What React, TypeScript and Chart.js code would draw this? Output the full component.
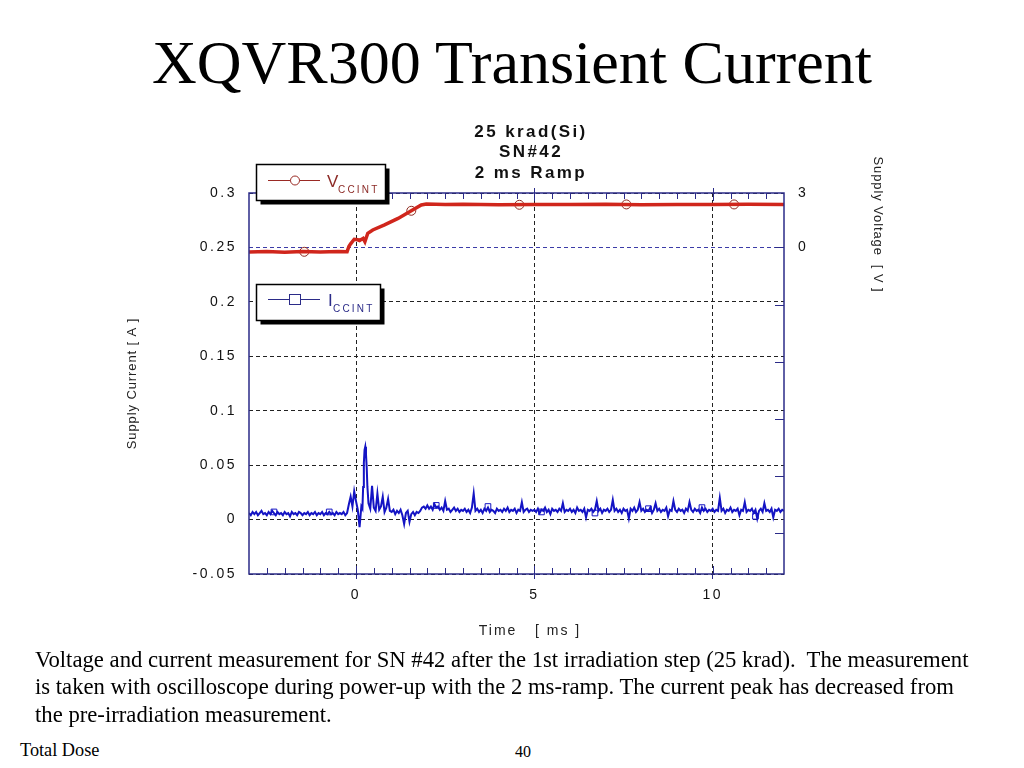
import React, { useEffect, useRef } from 'react';
import { Chart, registerables } from 'chart.js';

Chart.register(...registerables);

// axes
const xMajorTicks = [0, 5, 10];
const xMinorTicks = [-2.5, -2, -1.5, -1, -0.5, 0.5, 1, 1.5, 2, 2.5, 3, 3.5, 4, 4.5, 5.5, 6, 6.5, 7, 7.5, 8, 8.5, 9, 9.5, 10.5, 11, 11.5];
const leftTicks = [-0.05, 0, 0.05, 0.1, 0.15, 0.2, 0.25, 0.3];
const leftTickLabels = ['-0.05', '0', '0.05', '0.1', '0.15', '0.2', '0.25', '0.3'];
const rightTicks = [3, 0, -3.15, -6.3, -9.45, -12.6, -15.75];
const rightTickLabels = ['3', '0', '', '', '', '', ''];

const chartTitleLines = ['25 krad(Si)', 'SN#42', '2 ms Ramp'];

// V_CCINT [V] (right axis)
const vTimes = [-3, -2.5, -2, -1.5, -1, -0.5, -0.25, -0.2, -0.15, -0.05, 0.05, 0.1, 0.2, 0.25, 0.33, 0.47, 0.8, 1.18, 1.55, 1.83, 1.97, 2.5, 3, 4, 5, 6, 7, 8, 9, 10, 11, 12];
const vVolts = [-0.25, -0.22, -0.26, -0.23, -0.25, -0.22, -0.24, 0.05, 0.2, 0.45, 0.42, 0.38, 0.5, 0.32, 0.78, 0.96, 1.24, 1.6, 2.02, 2.34, 2.39, 2.36, 2.38, 2.35, 2.37, 2.36, 2.38, 2.35, 2.37, 2.36, 2.38, 2.36];
const vMarkerTimes = [-1.45, 1.55, 4.58, 7.58, 10.6];
const vMarkerVolts = [-0.24, 2.02, 2.35, 2.37, 2.37];

// I_CCINT [A] (left axis)
const iTimes = [
  -3, -2.95, -2.9, -2.85, -2.8, -2.75, -2.7, -2.65, -2.6, -2.55, -2.5, -2.45, -2.4, -2.35, -2.3, -2.25, -2.2, -2.15, -2.1, -2.05,
  -2, -1.95, -1.9, -1.85, -1.8, -1.75, -1.7, -1.65, -1.6, -1.55, -1.5, -1.45, -1.4, -1.35, -1.3, -1.25, -1.2, -1.15, -1.1, -1.05,
  -1, -0.95, -0.9, -0.85, -0.8, -0.75, -0.7, -0.65, -0.6, -0.55, -0.5, -0.45, -0.4, -0.35, -0.3, -0.25, -0.2, -0.15, -0.1, -0.05,
  0, 0.05, 0.1, 0.15, 0.18, 0.2, 0.22, 0.24, 0.26, 0.28, 0.3, 0.32, 0.35, 0.4, 0.45, 0.5, 0.55, 0.6, 0.65, 0.7, 0.75, 0.8, 0.85, 0.9, 0.95,
  1, 1.05, 1.1, 1.15, 1.2, 1.25, 1.3, 1.35, 1.4, 1.45, 1.5, 1.55, 1.6, 1.65, 1.7, 1.75, 1.8, 1.85, 1.9, 1.95,
  2, 2.05, 2.1, 2.15, 2.2, 2.25, 2.3, 2.35, 2.4, 2.45, 2.5, 2.55, 2.6, 2.65, 2.7, 2.75, 2.8, 2.85, 2.9, 2.95,
  3, 3.05, 3.1, 3.15, 3.2, 3.25, 3.3, 3.35, 3.4, 3.45, 3.5, 3.55, 3.6, 3.65, 3.7, 3.75, 3.8, 3.85, 3.9, 3.95,
  4, 4.05, 4.1, 4.15, 4.2, 4.25, 4.3, 4.35, 4.4, 4.45, 4.5, 4.55, 4.6, 4.65, 4.7, 4.75, 4.8, 4.85, 4.9, 4.95,
  5, 5.05, 5.1, 5.15, 5.2, 5.25, 5.3, 5.35, 5.4, 5.45, 5.5, 5.55, 5.6, 5.65, 5.7, 5.75, 5.8, 5.85, 5.9, 5.95,
  6, 6.05, 6.1, 6.15, 6.2, 6.25, 6.3, 6.35, 6.4, 6.45, 6.5, 6.55, 6.6, 6.65, 6.7, 6.75, 6.8, 6.85, 6.9, 6.95,
  7, 7.05, 7.1, 7.15, 7.2, 7.25, 7.3, 7.35, 7.4, 7.45, 7.5, 7.55, 7.6, 7.65, 7.7, 7.75, 7.8, 7.85, 7.9, 7.95,
  8, 8.05, 8.1, 8.15, 8.2, 8.25, 8.3, 8.35, 8.4, 8.45, 8.5, 8.55, 8.6, 8.65, 8.7, 8.75, 8.8, 8.85, 8.9, 8.95,
  9, 9.05, 9.1, 9.15, 9.2, 9.25, 9.3, 9.35, 9.4, 9.45, 9.5, 9.55, 9.6, 9.65, 9.7, 9.75, 9.8, 9.85, 9.9, 9.95,
  10, 10.05, 10.1, 10.15, 10.2, 10.25, 10.3, 10.35, 10.4, 10.45, 10.5, 10.55, 10.6, 10.65, 10.7, 10.75, 10.8, 10.85, 10.9, 10.95,
  11, 11.05, 11.1, 11.15, 11.2, 11.25, 11.3, 11.35, 11.4, 11.45, 11.5, 11.55, 11.6, 11.65, 11.7, 11.75, 11.8, 11.85, 11.9, 11.95, 12,
];
const iAmps = [
  0.006, 0.004, 0.007, 0.005, 0.007, 0.004, 0.006, 0.008, 0.005, 0.006, 0.004, 0.007, 0.005, 0.008, 0.006, 0.004, 0.007, 0.005, 0.006, 0.004,
  0.007, 0.005, 0.006, 0.003, 0.007, 0.005, 0.006, 0.004, 0.007, 0.006, 0.004, 0.006, 0.005, 0.007, 0.004, 0.006, 0.005, 0.007, 0.004, 0.006,
  0.005, 0.007, 0.004, 0.006, 0.005, 0.007, 0.005, 0.006, 0.004, 0.007, 0.005, 0.006, 0.005, 0.007, 0.004, 0.006, 0.014, 0.021, 0.012, 0.026,
  0.017, 0.009, -0.007, 0.012, 0.010, 0.030, 0.052, 0.064, 0.067, 0.060, 0.048, 0.030, 0.015, 0.010, 0.031, 0.011, 0.008, 0.024, 0.009, 0.012, 0.021, 0.007, 0.011, 0.019, 0.008,
  0.007, 0.009, 0.005, 0.008, 0.006, 0.009, 0.004, -0.004, 0.006, 0.008, -0.002, 0.005, 0.007, 0.004, 0.007, 0.006, 0.008, 0.011, 0.012, 0.010,
  0.013, 0.010, 0.012, 0.009, 0.014, 0.011, 0.012, 0.009, 0.011, 0.008, 0.017, 0.009, 0.010, 0.007, 0.009, 0.011, 0.008, 0.010, 0.007, 0.009,
  0.008, 0.010, 0.007, 0.009, 0.006, 0.011, 0.024, 0.008, 0.010, 0.007, 0.009, 0.006, 0.010, 0.008, 0.011, 0.007, 0.009, 0.008, 0.006, 0.010,
  0.008, 0.009, 0.007, 0.010, 0.008, 0.011, 0.007, 0.009, 0.008, 0.010, 0.006, 0.009, 0.008, 0.016, 0.007, 0.009, 0.010, 0.007, 0.009, 0.008,
  0.009, 0.007, 0.010, 0.006, 0.009, 0.008, 0.011, 0.007, 0.009, 0.005, 0.010, 0.008, 0.009, 0.007, 0.010, 0.008, 0.015, 0.007, 0.009, 0.008,
  0.010, 0.007, 0.009, 0.006, 0.011, 0.008, 0.009, 0.007, 0.010, 0.002, 0.009, 0.008, 0.010, 0.007, 0.009, 0.017, 0.008, 0.010, 0.006, 0.009,
  0.008, 0.010, 0.007, 0.009, 0.018, 0.008, 0.010, 0.007, 0.009, 0.006, 0.010, 0.008, 0.009, 0.001, 0.010, 0.008, 0.011, 0.007, 0.009, 0.016,
  0.008, 0.010, 0.007, 0.009, 0.008, 0.011, 0.006, 0.009, 0.015, 0.008, 0.010, 0.007, 0.009, 0.008, 0.011, 0.003, 0.009, 0.008, 0.017, 0.009,
  0.007, 0.010, 0.008, 0.009, 0.006, 0.010, 0.008, 0.016, 0.009, 0.007, 0.010, 0.008, 0.009, 0.006, 0.011, 0.008, 0.010, 0.007, 0.009, 0.008,
  0.010, 0.007, 0.009, 0.008, 0.020, 0.008, 0.010, 0.006, 0.009, 0.008, 0.011, 0.007, 0.009, 0.008, 0.010, 0.004, 0.009, 0.008, 0.016, 0.007,
  0.009, 0.008, 0.010, 0.006, 0.009, 0.001, 0.008, 0.010, 0.007, 0.015, 0.008, 0.009, 0.007, 0.010, 0.002, 0.009, 0.008, 0.010, 0.007, 0.009, 0.008,
];
const iMarkerTimes = [-2.3, -0.75, 2.25, 3.7, 5.2, 6.7, 8.2, 9.7, 11.2];
const iMarkerAmps = [0.007, 0.007, 0.013, 0.012, 0.007, 0.006, 0.010, 0.011, 0.003];

const NAVY = '#2b2b88';
const RED = '#d0261c';
const BLUE = '#1414c4';
const SANS = '"Liberation Sans", Arial, sans-serif';
const TICK_SPACING = '2.5px';

const pts = (xs: number[], ys: number[]) => xs.map((x, i) => ({ x, y: ys[i] }));

const labelFor = (ticks: number[], labels: string[]) => (value: any) => {
  const i = ticks.findIndex((t) => Math.abs(t - Number(value)) < 1e-9);
  return i >= 0 ? labels[i] : '';
};

const decorPlugin = {
  id: 'decor',
  beforeInit(chart: any) {
    chart.ctx.letterSpacing = TICK_SPACING;
  },
  beforeUpdate(chart: any) {
    chart.ctx.letterSpacing = TICK_SPACING;
  },
  beforeDraw(chart: any) {
    chart.ctx.letterSpacing = TICK_SPACING;
  },
  afterDraw(chart: any) {
    const { ctx, chartArea: a, scales } = chart;
    const line = (x1: number, y1: number, x2: number, y2: number) => {
      ctx.beginPath();
      ctx.moveTo(x1, y1);
      ctx.lineTo(x2, y2);
      ctx.stroke();
    };
    ctx.save();
    ctx.setLineDash([]);

    // frame + inward ticks
    ctx.strokeStyle = NAVY;
    ctx.lineWidth = 1.5;
    ctx.strokeRect(a.left, a.top, a.right - a.left, a.bottom - a.top);
    ctx.lineWidth = 1;
    xMinorTicks.forEach((v) => {
      const px = Math.round(scales.x.getPixelForValue(v)) + 0.5;
      line(px, a.top, px, a.top + 6);
      line(px, a.bottom, px, a.bottom - 6);
    });
    xMajorTicks.forEach((v) => {
      const px = Math.round(scales.x.getPixelForValue(v)) + 0.5;
      line(px, a.top - 5, px, a.top + 8);
      line(px, a.bottom - 8, px, a.bottom);
    });
    rightTicks.forEach((v) => {
      if (v === 3) return;
      const py = Math.round(scales.y2.getPixelForValue(v)) + 0.5;
      line(a.right - 9, py, a.right, py);
    });

    // chart title
    ctx.fillStyle = '#111';
    ctx.font = `bold 17px ${SANS}`;
    ctx.letterSpacing = '2.4px';
    ctx.textAlign = 'center';
    ctx.textBaseline = 'middle';
    chartTitleLines.forEach((t, i) => ctx.fillText(t, 411, 22 + i * 20.8));

    // axis titles
    ctx.font = `13px ${SANS}`;
    ctx.letterSpacing = '0.9px';
    ctx.fillStyle = '#222';
    ctx.save();
    ctx.translate(12, (a.top + a.bottom) / 2);
    ctx.rotate(-Math.PI / 2);
    ctx.fillText('Supply Current [ A ]', 0, 0);
    ctx.restore();
    ctx.save();
    ctx.translate(758, 114.5);
    ctx.rotate(Math.PI / 2);
    ctx.fillText('Supply Voltage  [ V ]', 0, 0);
    ctx.restore();
    ctx.font = `14px ${SANS}`;
    ctx.letterSpacing = '2px';
    ctx.fillText('Time   [ ms ]', 410, 521.5);

    // legend boxes
    const box = (x: number, y: number, w: number, h: number) => {
      ctx.fillStyle = '#000';
      ctx.fillRect(x + 4, y + 4, w, h);
      ctx.fillStyle = '#fff';
      ctx.fillRect(x, y, w, h);
      ctx.strokeStyle = '#000';
      ctx.lineWidth = 1.5;
      ctx.strokeRect(x, y, w, h);
    };
    ctx.textAlign = 'left';
    ctx.textBaseline = 'alphabetic';

    box(136.5, 54.5, 129, 36);
    ctx.strokeStyle = '#9a2a24';
    ctx.lineWidth = 1;
    line(148, 70.5, 200, 70.5);
    ctx.beginPath();
    ctx.arc(175, 70.5, 4.5, 0, Math.PI * 2);
    ctx.fillStyle = '#fff';
    ctx.fill();
    ctx.stroke();
    ctx.fillStyle = '#8c2a26';
    ctx.letterSpacing = '0px';
    ctx.font = `17px ${SANS}`;
    ctx.fillText('V', 207, 77);
    ctx.font = `10px ${SANS}`;
    ctx.letterSpacing = '2.2px';
    ctx.fillText('CCINT', 218, 83);

    box(136.5, 174.5, 124, 36);
    ctx.strokeStyle = NAVY;
    ctx.lineWidth = 1;
    line(148, 189.5, 200, 189.5);
    ctx.fillStyle = '#fff';
    ctx.fillRect(169.5, 184.5, 11, 10);
    ctx.strokeRect(169.5, 184.5, 11, 10);
    ctx.fillStyle = NAVY;
    ctx.letterSpacing = '0px';
    ctx.font = `17px ${SANS}`;
    ctx.fillText('I', 208, 196);
    ctx.font = `10px ${SANS}`;
    ctx.letterSpacing = '2.2px';
    ctx.fillText('CCINT', 213, 202);

    ctx.restore();
  },
};

const TransientChart: React.FC = () => {
  const canvasRef = useRef<HTMLCanvasElement | null>(null);
  const chartRef = useRef<Chart | null>(null);

  useEffect(() => {
    if (!canvasRef.current) return;
    if (chartRef.current) chartRef.current.destroy();

    const tickFont = { family: SANS, size: 14 };

    chartRef.current = new Chart(canvasRef.current, {
      type: 'line',
      data: {
        datasets: [
          {
            label: 'ICCINT',
            data: pts(iTimes, iAmps),
            yAxisID: 'y',
            borderColor: BLUE,
            borderWidth: 2,
            pointRadius: 0,
            tension: 0,
          },
          {
            label: 'ICCINT markers',
            data: pts(iMarkerTimes, iMarkerAmps),
            yAxisID: 'y',
            showLine: false,
            pointStyle: 'rect',
            pointRadius: 4,
            borderColor: BLUE,
            backgroundColor: 'rgba(0,0,0,0)',
            borderWidth: 1,
          },
          {
            label: 'VCCINT',
            data: pts(vTimes, vVolts),
            yAxisID: 'y2',
            borderColor: RED,
            borderWidth: 3.5,
            pointRadius: 0,
            tension: 0,
          },
          {
            label: 'VCCINT markers',
            data: pts(vMarkerTimes, vMarkerVolts),
            yAxisID: 'y2',
            showLine: false,
            pointStyle: 'circle',
            pointRadius: 4.5,
            borderColor: '#8c2a26',
            backgroundColor: '#fffaf2',
            borderWidth: 1,
          },
        ],
      } as any,
      options: {
        responsive: false,
        animation: false,
        layout: { padding: { top: 83, left: 0, right: 0, bottom: 0 } },
        plugins: {
          legend: { display: false },
          title: { display: false },
          tooltip: { enabled: false },
        },
        scales: {
          x: {
            type: 'linear',
            min: -3,
            max: 12,
            afterBuildTicks: (s: any) => {
              s.ticks = xMajorTicks.map((v) => ({ value: v }));
            },
            afterFit: (s: any) => {
              s.height = 76;
            },
            grid: {
              color: '#222',
              lineWidth: 1,
              drawTicks: true,
              tickLength: 5,
              tickColor: NAVY,
              tickBorderDash: [],
              borderDash: [4, 3],
            } as any,
            border: { display: false, dash: [4, 3] },
            ticks: { color: '#111', font: tickFont, padding: 8, maxRotation: 0 },
          },
          y: {
            type: 'linear',
            position: 'left',
            min: -0.05,
            max: 0.3,
            afterBuildTicks: (s: any) => {
              s.ticks = leftTicks.map((v) => ({ value: v }));
            },
            afterFit: (s: any) => {
              s.width = 129;
            },
            grid: {
              color: (c: any) => (Math.abs((c.tick?.value ?? 0) - 0.25) < 1e-9 ? '#3c3ca8' : '#222'),
              lineWidth: 1,
              drawTicks: false,
              borderDash: [4, 3],
            } as any,
            border: { display: false, dash: [4, 3] },
            ticks: { color: '#111', font: tickFont, padding: 12, callback: labelFor(leftTicks, leftTickLabels) },
          },
          y2: {
            type: 'linear',
            position: 'right',
            min: -18,
            max: 3,
            afterBuildTicks: (s: any) => {
              s.ticks = rightTicks.map((v) => ({ value: v }));
            },
            afterFit: (s: any) => {
              s.width = 156;
            },
            grid: { drawOnChartArea: false, drawTicks: false },
            border: { display: false },
            ticks: { color: '#111', font: tickFont, padding: 14, callback: labelFor(rightTicks, rightTickLabels) },
          },
        },
      } as any,
      plugins: [decorPlugin],
    });

    return () => {
      if (chartRef.current) {
        chartRef.current.destroy();
        chartRef.current = null;
      }
    };
  }, []);

  return (
    <canvas
      ref={canvasRef}
      width={820}
      height={540}
      style={{ position: 'absolute', left: 120, top: 110 }}
    ></canvas>
  );
};

const serif = '"Liberation Serif", "Times New Roman", serif';

const App: React.FC = () => {
  return (
    <div style={{ position: 'absolute', left: 0, top: 0, width: 1024, height: 768, background: '#fff', overflow: 'hidden' }}>
      <div
        style={{
          position: 'absolute', left: 0, top: 31, width: 1024, textAlign: 'center',
          fontFamily: serif, fontSize: 62, lineHeight: '62px', color: '#000', whiteSpace: 'nowrap',
        }}
      >
        XQVR300 Transient Current
      </div>
      <TransientChart />
      <div
        style={{
          position: 'absolute', left: 35, top: 646, fontFamily: serif, fontSize: 22.7,
          lineHeight: '27.3px', color: '#000', whiteSpace: 'pre',
        }}
      >
        {'Voltage and current measurement for SN #42 after the 1st irradiation step (25 krad).  The measurement\n' +
          'is taken with oscilloscope during power-up with the 2 ms-ramp. The current peak has decreased from\n' +
          'the pre-irradiation measurement.'}
      </div>
      <div style={{ position: 'absolute', left: 20, top: 740, fontFamily: serif, fontSize: 18.3, lineHeight: '20px', whiteSpace: 'nowrap' }}>
        Total Dose
      </div>
      <div style={{ position: 'absolute', left: 515, top: 743, fontFamily: serif, fontSize: 16, lineHeight: '18px', whiteSpace: 'nowrap' }}>
        40
      </div>
    </div>
  );
};

export default App;
